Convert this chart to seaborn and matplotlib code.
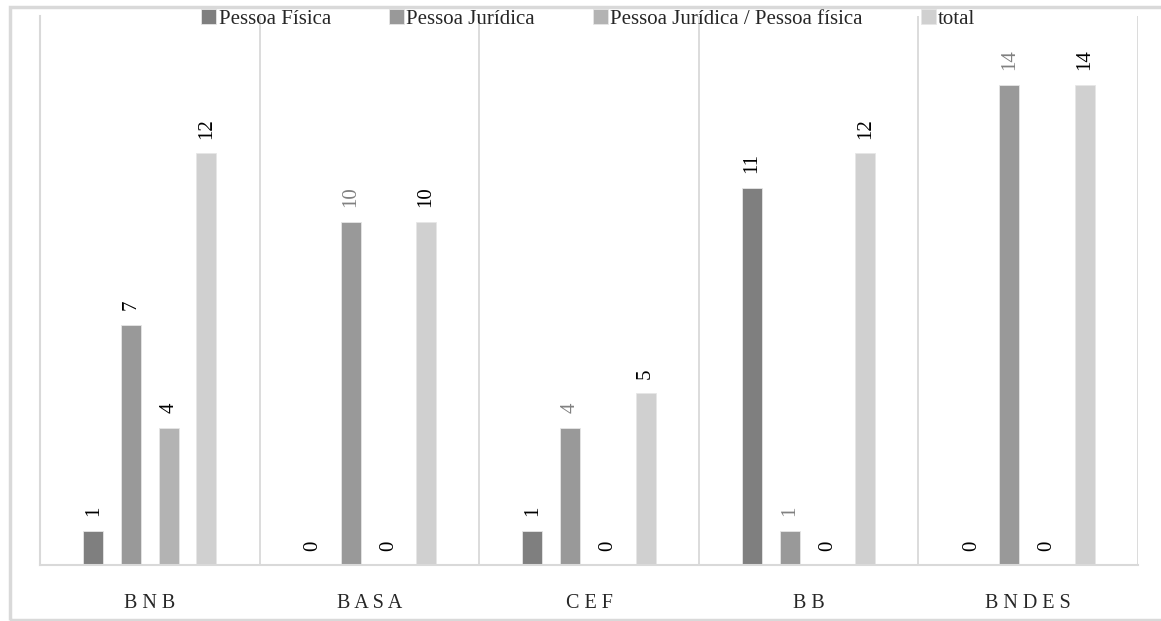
import pandas as pd
import matplotlib.pyplot as plt
import seaborn as sns
from matplotlib.patches import Rectangle

# Data
bancos = ['BNB', 'BASA', 'CEF', 'BB', 'BNDES']
series = ['Pessoa Física', 'Pessoa Jurídica', 'Pessoa Jurídica / Pessoa física', 'total']
pessoa_fisica = [1, 0, 1, 11, 0]
pessoa_juridica = [7, 10, 4, 1, 14]
pj_pf = [4, 0, 0, 0, 0]
total = [12, 10, 5, 12, 14]

df = pd.DataFrame({
    'Banco': bancos * 4,
    'Serie': [s for s in series for _ in bancos],
    'Valor': pessoa_fisica + pessoa_juridica + pj_pf + total,
})

sns.set_style('white')
plt.rcParams['font.family'] = ['Liberation Serif', 'DejaVu Serif']

cores = ['#7f7f7f', '#999999', '#b3b3b3', '#d0d0d0']
grid_cor = '#d9d9d9'

fig = plt.figure(figsize=(11.61, 6.21), dpi=100)
ax = fig.add_axes([40 / 1161, 56 / 621, 1098 / 1161, 549 / 621])

sns.barplot(data=df, x='Banco', y='Valor', hue='Serie', hue_order=series,
            order=bancos, palette=cores, width=0.687, gap=0.47,
            edgecolor='#e6e6e6', linewidth=0.6, ax=ax)

# label colours: the Pessoa Jurídica labels are gray except the first one
label_cinza = {1: [False, True, True, True, True]}
for i, cont in enumerate(ax.containers):
    for j, bar in enumerate(cont):
        h = bar.get_height()
        cor = '#808080' if label_cinza.get(i, [False] * 5)[j] else 'black'
        ax.text(bar.get_x() + bar.get_width() / 2, h + 0.42, f'{int(h)}',
                rotation=90, ha='center', va='bottom', fontsize=15, color=cor)

ax.set_ylim(0, 16)
ax.set_xlim(-0.5, 4.5)
for k in range(5):
    ax.axvline(k + 0.5, color=grid_cor, lw=1.3)
ax.set_yticks([])
ax.tick_params(axis='x', length=0, pad=21)
ax.set_xticks(range(5))
ax.set_xticklabels([' '.join(b) for b in bancos], fontsize=14.5)
ax.set_xlabel('')
ax.set_ylabel('')
for s in ['top', 'right']:
    ax.spines[s].set_visible(False)
for s in ['left', 'bottom']:
    ax.spines[s].set_color(grid_cor)
    ax.spines[s].set_linewidth(1.5)

ax.legend(loc='center', bbox_to_anchor=(0.4995, 0.995), ncol=4, frameon=False,
          fontsize=15, handlelength=0.7, handleheight=0.7, handletextpad=0.12,
          columnspacing=2.8)

# outer chart border
fig.patches.append(Rectangle((10 / 1161, 1 / 621), 1.2, 613 / 621,
                             transform=fig.transFigure, fill=False,
                             edgecolor=grid_cor, lw=2.5))

fig.savefig('out.png', dpi=100)
